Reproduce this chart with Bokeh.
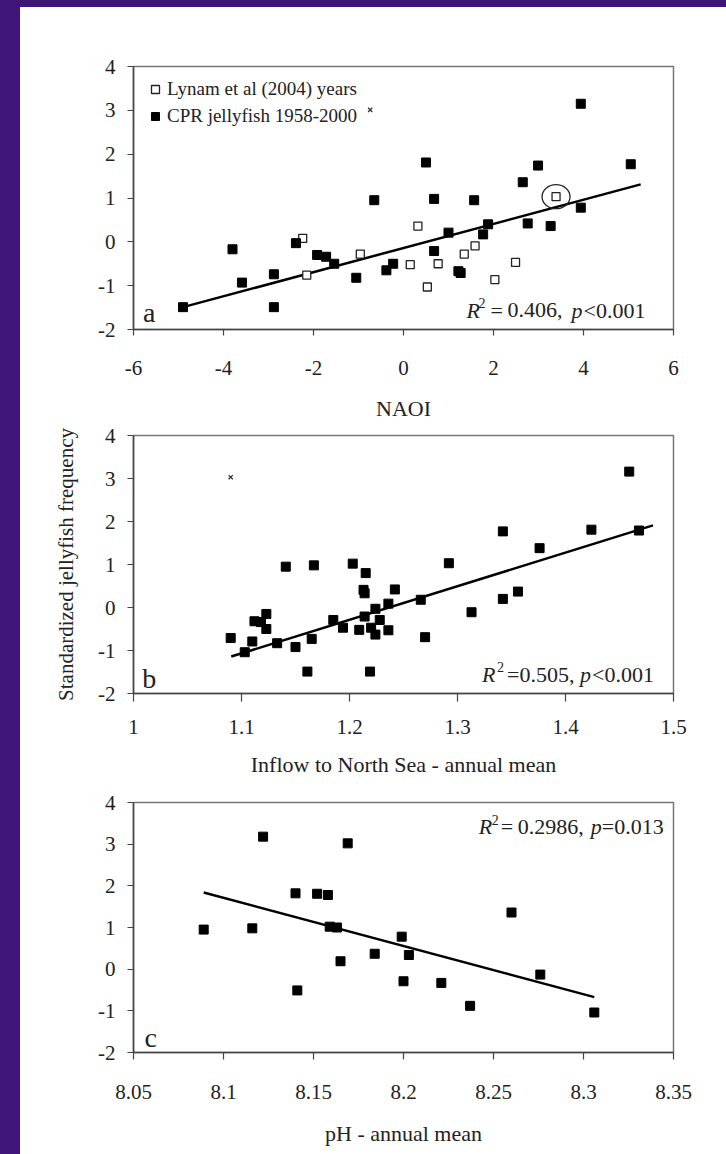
from bokeh.plotting import figure
from bokeh.layouts import column, row
from bokeh.models import FixedTicker, Legend, LegendItem, Label, Spacer
from bokeh.embed import file_html
from bokeh.resources import INLINE

# ---------------- data ----------------
# Panel a: NAOI vs standardized jellyfish frequency
a_cpr_x = [-4.90, -3.80, -3.59, -2.88, -2.88, -2.39, -1.92, -1.72, -1.54, -1.05, -0.65, -0.38, -0.23,
           0.50, 0.68, 0.68, 1.00, 1.22, 1.27, 1.57, 1.77, 1.88, 2.65, 2.76, 2.99, 3.27, 3.94, 3.94, 5.05]
a_cpr_y = [-1.49, -0.17, -0.93, -0.74, -1.49, -0.03, -0.30, -0.34, -0.50, -0.82, 0.95, -0.65, -0.50,
           1.81, 0.98, -0.21, 0.21, -0.67, -0.71, 0.95, 0.17, 0.40, 1.36, 0.42, 1.74, 0.36, 3.15, 0.78, 1.77]
a_lynam_x = [-2.24, -2.15, -0.96, 0.15, 0.32, 0.53, 0.77, 1.35, 1.59, 2.03, 2.49, 3.39]
a_lynam_y = [0.08, -0.76, -0.28, -0.52, 0.36, -1.03, -0.50, -0.28, -0.09, -0.86, -0.47, 1.03]
a_circled_index = 11
a_outlier_x = [-0.74]
a_outlier_y = [3.01]
a_fit_x = [-4.90, 5.27]
a_fit_y = [-1.49, 1.31]

# Panel b: inflow to North Sea
b_x = [1.090, 1.103, 1.110, 1.112, 1.118, 1.123, 1.123, 1.133, 1.141, 1.150,
       1.161, 1.165, 1.167, 1.185, 1.194, 1.203, 1.209, 1.214, 1.215, 1.213,
       1.214, 1.219, 1.220, 1.224, 1.224, 1.228, 1.236, 1.236, 1.242, 1.266,
       1.270, 1.292, 1.313, 1.342, 1.342, 1.356, 1.376, 1.424, 1.459, 1.468]
b_y = [-0.71, -1.04, -0.79, -0.32, -0.34, -0.15, -0.50, -0.83, 0.95, -0.92,
       -1.49, -0.73, 0.98, -0.29, -0.47, 1.02, -0.52, -0.21, 0.80, 0.41,
       0.33, -1.49, -0.47, -0.03, -0.63, -0.29, 0.09, -0.53, 0.42, 0.18,
       -0.69, 1.03, -0.11, 1.77, 0.20, 0.37, 1.38, 1.81, 3.16, 1.79]
b_outlier_x = [1.090]
b_outlier_y = [3.03]
b_fit_x = [1.0905, 1.481]
b_fit_y = [-1.14, 1.91]

# Panel c: pH
c_x = [8.089, 8.116, 8.122, 8.140, 8.141, 8.152, 8.158, 8.159, 8.163, 8.165,
       8.169, 8.184, 8.199, 8.200, 8.203, 8.221, 8.237, 8.260, 8.276, 8.306]
c_y = [0.95, 0.98, 3.18, 1.82, -0.51, 1.81, 1.78, 1.02, 1.00, 0.19,
       3.02, 0.37, 0.78, -0.29, 0.34, -0.33, -0.88, 1.36, -0.13, -1.04]
c_fit_x = [8.089, 8.306]
c_fit_y = [1.84, -0.67]

# axes
y_ticks = [-2, -1, 0, 1, 2, 3, 4]
y_tick_labels = ["-2", "-1", "0", "1", "2", "3", "4"]
a_x_ticks = [-6, -4, -2, 0, 2, 4, 6]
a_x_tick_labels = ["-6", "-4", "-2", "0", "2", "4", "6"]
b_x_ticks = [1.0, 1.1, 1.2, 1.3, 1.4, 1.5]
b_x_tick_labels = ["1", "1.1", "1.2", "1.3", "1.4", "1.5"]
c_x_ticks = [8.05, 8.10, 8.15, 8.20, 8.25, 8.30, 8.35]
c_x_tick_labels = ["8.05", "8.1", "8.15", "8.2", "8.25", "8.3", "8.35"]

legend_labels = ["Lynam et al (2004) years", "CPR jellyfish 1958-2000"]
x_titles = ["NAOI", "Inflow to North Sea - annual mean", "pH - annual mean"]
y_title = "Standardized jellyfish frequency"
stats_a = [("R", "i"), ("2", "s"), ("=", "n"), ("0.406,", "n"), ("p", "i"), ("<0.001", "n")]
stats_b = [("R", "i"), ("2", "s"), ("=0.505,", "n"), ("p", "i"), ("<0.001", "n")]
stats_c = [("R", "i"), ("2", "s"), ("=", "n"), ("0.2986,", "n"), ("p", "i"), ("=0.013", "n")]

# ---------------- style ----------------
FONT = "Liberation Serif"
TXT = "#222222"
PURPLE = "#3f1678"
W = 706


def make_fig(h, xr, yr, top, bottom, right, xt, xtl, xlabel, ylabel=None,
             tick_out=6, x_std=22, xlab_std=16):
    p = figure(width=W, height=h, x_range=xr, y_range=yr, output_backend="svg",
               toolbar_location=None, min_border_left=113, min_border_right=right,
               min_border_top=top, min_border_bottom=bottom,
               background_fill_color="white", border_fill_color="white")
    p.xgrid.visible = False
    p.ygrid.visible = False
    p.outline_line_color = "#777777"
    p.outline_line_width = 1.5
    p.xaxis.ticker = FixedTicker(ticks=xt)
    p.xaxis.major_label_overrides = {t: s for t, s in zip(xt, xtl)}
    p.yaxis.ticker = FixedTicker(ticks=y_ticks)
    p.yaxis.major_label_overrides = {t: s for t, s in zip(y_ticks, y_tick_labels)}
    for ax in (p.xaxis[0], p.yaxis[0]):
        ax.axis_line_color = "#444444"
        ax.axis_line_width = 1.5
        ax.major_tick_line_color = "#444444"
        ax.major_tick_line_width = 1.2
        ax.major_tick_in = 0
        ax.major_tick_out = tick_out
        ax.minor_tick_line_color = None
        ax.major_label_text_font = FONT
        ax.major_label_text_font_size = "21px"
        ax.major_label_text_color = TXT
        ax.axis_label_text_font = FONT
        ax.axis_label_text_font_size = "22px"
        ax.axis_label_text_font_style = "normal"
        ax.axis_label_text_color = TXT
    p.yaxis.major_tick_out = 6
    p.xaxis.major_label_standoff = x_std
    p.yaxis.major_label_standoff = 12
    p.xaxis.axis_label = xlabel
    p.xaxis.axis_label_standoff = xlab_std
    if ylabel:
        p.yaxis.axis_label = ylabel
        p.yaxis.axis_label_text_font_size = "21px"
        p.yaxis.axis_label_standoff = 17
    return p


def add_stats(p, x, y, pieces, offsets):
    for (t, kind), off in zip(pieces, offsets):
        lab = Label(x=x, y=y, x_offset=off, y_offset=(7 if kind == "s" else 0), text=t,
                    text_font=FONT, text_font_size=("14px" if kind == "s" else "22px"),
                    text_font_style=("italic" if kind == "i" else "normal"),
                    text_color=TXT, text_baseline="middle", text_align="left")
        p.add_layout(lab)


def add_letter(p, x, y, t):
    p.add_layout(Label(x=x, y=y, text=t, text_font=FONT, text_font_size="28px",
                       text_color=TXT, text_baseline="middle", text_align="left"))


# ---------------- panel a ----------------
pa = make_fig(418, (-6, 6), (-2, 4), 59, 96, 43, a_x_ticks, a_x_tick_labels, x_titles[0],
              x_std=25, xlab_std=18)
pa.line(a_fit_x, a_fit_y, line_color="black", line_width=2.5)
r_open = pa.scatter(a_lynam_x, a_lynam_y, marker="square", size=8, fill_color="white",
                    line_color="#222222", line_width=1.3)
r_fill = pa.scatter(a_cpr_x, a_cpr_y, marker="square", size=9, fill_color="black",
                    line_color="black")
pa.scatter(a_outlier_x, a_outlier_y, marker="x", size=6, line_color="#333333", line_width=1.3)
pa.ellipse([a_lynam_x[a_circled_index]], [a_lynam_y[a_circled_index]], width=28, height=24,
           width_units="screen", height_units="screen", fill_alpha=0,
           line_color="#222222", line_width=1.3)
legend = Legend(items=[LegendItem(label=legend_labels[0], renderers=[r_open]),
                       LegendItem(label=legend_labels[1], renderers=[r_fill])],
                location="top_left", margin=12, padding=0, spacing=5,
                glyph_width=20, glyph_height=20, label_standoff=2,
                border_line_alpha=0, background_fill_alpha=0,
                label_text_font=FONT, label_text_font_size="19px", label_text_color=TXT)
pa.add_layout(legend)
add_stats(pa, 1.40, -1.556, stats_a, [0, 12, 24, 41, 105, 117])
add_letter(pa, -5.79, -1.61, "a")

# ---------------- panel b ----------------
pb = make_fig(360, (1.0, 1.5), (-2, 4), 10, 92, 43, b_x_ticks, b_x_tick_labels, x_titles[1],
              ylabel=y_title, tick_out=8, x_std=18, xlab_std=15)
pb.line(b_fit_x, b_fit_y, line_color="black", line_width=2.5)
pb.scatter(b_x, b_y, marker="square", size=9, fill_color="black", line_color="black")
pb.scatter(b_outlier_x, b_outlier_y, marker="x", size=6, line_color="#333333", line_width=1.3)
add_stats(pb, 1.3227, -1.558, stats_b, [0, 15, 25, 98, 110])
add_letter(pb, 1.008, -1.64, "b")

# ---------------- panel c ----------------
pc = make_fig(369, (8.05, 8.35), (-2, 4), 17, 102, 53, c_x_ticks, c_x_tick_labels, x_titles[2],
              tick_out=7, x_std=25, xlab_std=19)
pc.line(c_fit_x, c_fit_y, line_color="black", line_width=2.5)
pc.scatter(c_x, c_y, marker="square", size=9, fill_color="black", line_color="black")
add_stats(pc, 8.2418, 3.42, stats_c, [0, 13, 22, 39, 112, 123])
add_letter(pc, 8.0561, -1.63, "c")

left_strip = Spacer(width=20, height=1154, styles={"background-color": PURPLE})
top_strip = Spacer(width=W, height=7, styles={"background-color": PURPLE})
layout = row(left_strip, column(top_strip, pa, pb, pc, spacing=0), spacing=0)

open("out.html", "w").write(file_html(layout, INLINE))
